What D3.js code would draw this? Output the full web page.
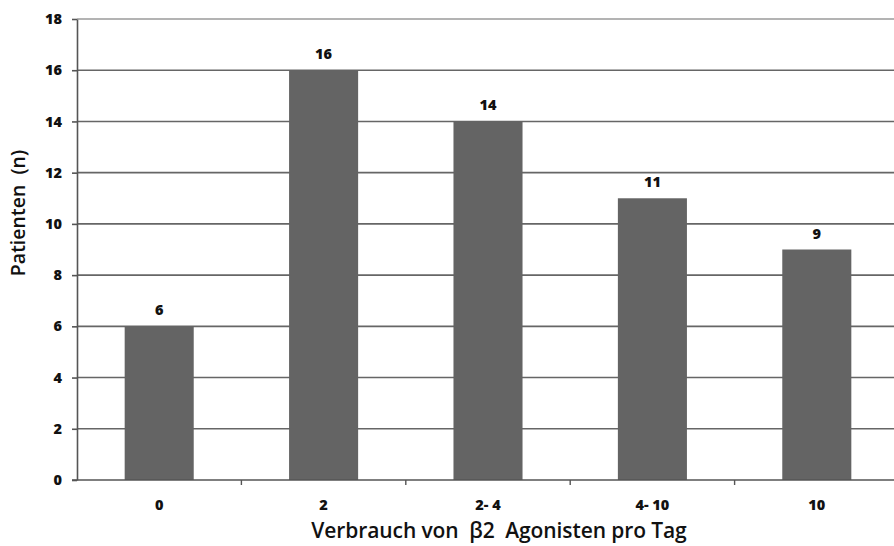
<!DOCTYPE html>
<html>
<head>
<meta charset="utf-8">
<script src="https://cdn.jsdelivr.net/npm/d3@7"></script>
<style>
  html, body { margin: 0; padding: 0; background: #fff; }
  svg { display: block; }
</style>
</head>
<body>
<svg id="chart" width="894" height="546"></svg>
<script>
// Daily use of beta-2 agonists: number of patients per category
const categories = ["0", "2", "2- 4", "4- 10", "10"];
const patients = [6, 16, 14, 11, 9];
const yTicks = [0, 2, 4, 6, 8, 10, 12, 14, 16, 18];

const svg = d3.select("#chart");
const margin = { top: 19, right: -5, bottom: 66, left: 77 };
const W = 894, H = 546;

const x = d3.scaleBand()
  .domain(categories)
  .range([margin.left, W - margin.right])
  .paddingInner(0.58)
  .paddingOuter(0.29);

const y = d3.scaleLinear()
  .domain([0, 18])
  .range([H - margin.bottom, margin.top]);

const tickFont = "'Open Sans', 'DejaVu Sans', sans-serif";

// horizontal grid lines
svg.append("g")
  .selectAll("line")
  .data(yTicks.filter(d => d > 0))
  .join("line")
  .attr("x1", margin.left)
  .attr("x2", W)
  .attr("y1", d => y(d))
  .attr("y2", d => y(d))
  .attr("stroke", d => d === 18 ? "#9a9a9a" : "#666")
  .attr("stroke-width", 1.6);

// bars
svg.append("g")
  .selectAll("rect")
  .data(patients)
  .join("rect")
  .attr("x", (d, i) => x(categories[i]))
  .attr("width", x.bandwidth())
  .attr("y", d => y(d))
  .attr("height", d => y(0) - y(d))
  .attr("fill", "#646464");

// value labels
svg.append("g")
  .selectAll("text")
  .data(patients)
  .join("text")
  .attr("x", (d, i) => x(categories[i]) + x.bandwidth() / 2)
  .attr("y", d => y(d) - 11)
  .attr("text-anchor", "middle")
  .attr("font-family", tickFont)
  .attr("font-weight", 800)
  .attr("font-size", 14.5)
  .attr("fill", "#111")
  .text(d => d);

// y axis
const yAxis = svg.append("g")
  .attr("transform", `translate(${margin.left},0)`)
  .call(d3.axisLeft(y).tickValues(yTicks).tickSize(5).tickPadding(10).tickSizeOuter(0));
yAxis.select(".domain").attr("stroke", "#555").attr("stroke-width", 1.6);
yAxis.selectAll(".tick line").attr("stroke", "#555").attr("stroke-width", 1.6);
yAxis.selectAll(".tick text")
  .attr("font-family", tickFont)
  .attr("font-weight", 800)
  .attr("font-size", 14.5)
  .attr("fill", "#111");

// x axis: ticks sit between categories
const xAxis = svg.append("g")
  .attr("transform", `translate(0,${y(0)})`)
  .call(d3.axisBottom(x).tickSize(0).tickPadding(20));
xAxis.select(".domain").remove();
xAxis.append("line")
  .attr("x1", margin.left - 5).attr("x2", W)
  .attr("stroke", "#555").attr("stroke-width", 1.6);
xAxis.selectAll(".tick text")
  .attr("font-family", tickFont)
  .attr("font-weight", 800)
  .attr("font-size", 14.5)
  .attr("fill", "#111");
const step = x.step();
xAxis.append("g")
  .selectAll("line")
  .data(categories.slice(1))
  .join("line")
  .attr("x1", d => x(d) - x.paddingInner() * step / 2)
  .attr("x2", d => x(d) - x.paddingInner() * step / 2)
  .attr("y1", 0).attr("y2", 5)
  .attr("stroke", "#555").attr("stroke-width", 1.4);

// axis titles
svg.append("text")
  .attr("x", 499)
  .attr("y", 538)
  .attr("text-anchor", "middle")
  .attr("font-family", "'Open Sans', sans-serif")
  .attr("font-weight", 600)
  .attr("font-size", 21)
  .attr("letter-spacing", -0.1)
  .attr("fill", "#111")
  .attr("xml:space", "preserve")
  .text("Verbrauch von  β2  Agonisten pro Tag");

svg.append("text")
  .attr("transform", `translate(25,${213}) rotate(-90)`)
  .attr("text-anchor", "middle")
  .attr("font-family", "'Open Sans', sans-serif")
  .attr("font-weight", 600)
  .attr("font-size", 19.5)
  .attr("fill", "#111")
  .attr("xml:space", "preserve")
  .text("Patienten  (n)");
</script>
</body>
</html>
